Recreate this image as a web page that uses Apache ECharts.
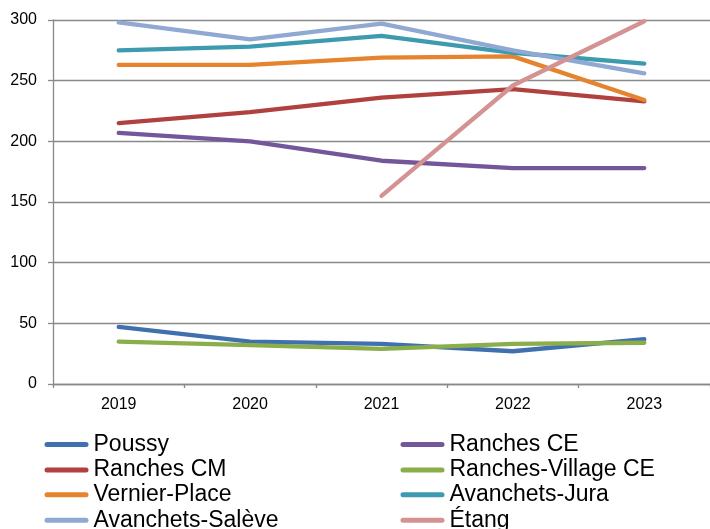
<!DOCTYPE html>
<html>
<head>
<meta charset="utf-8">
<script src="https://cdn.jsdelivr.net/npm/echarts@6/dist/echarts.min.js"></script>
<style>
  html, body { margin: 0; padding: 0; background: #fff; }
  #chart { width: 710px; height: 529px; }
</style>
</head>
<body>
<div id="chart"></div>
<script>
// Years on the category axis
const years = ['2019', '2020', '2021', '2022', '2023'];

// Values per site
const poussy = [47, 35, 33, 27, 37];
const ranchesCE = [207, 200, 184, 178, 178];
const ranchesCM = [215, 224, 236, 243, 233];
const ranchesVillageCE = [35, 32, 29, 33, 34];
const vernierPlace = [263, 263, 269, 270, 234];
const avanchetsJura = [275, 278, 287, 273, 264];
const avanchetsSaleve = [298, 284, 297, 275, 256];
const etang = [null, null, 155, 246, 299];

// Value-axis ticks
const yTicks = [0, 50, 100, 150, 200, 250, 300];

const seriesDefs = [
  { name: 'Poussy', data: poussy, color: '#4170AE' },
  { name: 'Ranches CE', data: ranchesCE, color: '#73579A' },
  { name: 'Ranches CM', data: ranchesCM, color: '#B0413E' },
  { name: 'Ranches-Village CE', data: ranchesVillageCE, color: '#8AAE4A' },
  { name: 'Vernier-Place', data: vernierPlace, color: '#E6832F' },
  { name: 'Avanchets-Jura', data: avanchetsJura, color: '#3D9AAF' },
  { name: 'Avanchets-Salève', data: avanchetsSaleve, color: '#8FA9D3' },
  { name: 'Étang', data: etang, color: '#D49392' }
];

const FONT = '"Liberation Sans", Arial, sans-serif';
const AXIS_GRAY = '#898989';

// Thick rounded stroke used as the legend key
const KEY_ICON = 'path://M2.5,0H41.5A2.5,2.5,0,0,1,41.5,5H2.5A2.5,2.5,0,0,1,2.5,0Z';

// Legend laid out in two columns of four rows, series order running across
const LEGEND_COLS = [44.5, 400.5];
const LEGEND_ROWS = [444.5, 470.0, 494.8, 520.2];
const LEGEND_TEXT_H = 23;

const legends = seriesDefs.map((s, i) => ({
  data: [s.name],
  orient: 'horizontal',
  left: LEGEND_COLS[i % 2],
  top: LEGEND_ROWS[Math.floor(i / 2)] - LEGEND_TEXT_H / 2,
  padding: 0,
  icon: KEY_ICON,
  itemWidth: 44,
  itemHeight: 5,
  selectedMode: false,
  textStyle: { fontFamily: FONT, fontSize: 23, color: '#000' }
}));

const chart = echarts.init(document.getElementById('chart'), null, { renderer: 'canvas' });

chart.setOption({
  animation: false,
  backgroundColor: '#fff',
  grid: { left: 53, top: 20, width: 660, bottom: 145, containLabel: false },
  legend: legends,
  xAxis: {
    type: 'category',
    data: years,
    boundaryGap: true,
    axisLine: { lineStyle: { color: AXIS_GRAY, width: 1.3 } },
    axisTick: { show: true, length: 4, alignWithLabel: false, lineStyle: { color: AXIS_GRAY, width: 1.3 } },
    axisLabel: { fontFamily: FONT, fontSize: 16, color: '#000', margin: 13 },
    splitLine: { show: false }
  },
  yAxis: {
    type: 'value',
    min: yTicks[0],
    max: yTicks[yTicks.length - 1],
    interval: yTicks[1] - yTicks[0],
    axisLine: { show: true, lineStyle: { color: AXIS_GRAY, width: 1.3 } },
    axisTick: { show: true, length: 5, lineStyle: { color: AXIS_GRAY, width: 1.3 } },
    axisLabel: { fontFamily: FONT, fontSize: 16, color: '#000', margin: 16 },
    splitLine: { show: true, lineStyle: { color: AXIS_GRAY, width: 1.3 } }
  },
  series: seriesDefs.map(s => ({
    name: s.name,
    type: 'line',
    data: s.data,
    symbol: 'none',
    smooth: false,
    connectNulls: false,
    color: s.color,
    lineStyle: { color: s.color, width: 4.3, cap: 'round', join: 'round' },
    itemStyle: { color: s.color }
  }))
});
</script>
</body>
</html>
